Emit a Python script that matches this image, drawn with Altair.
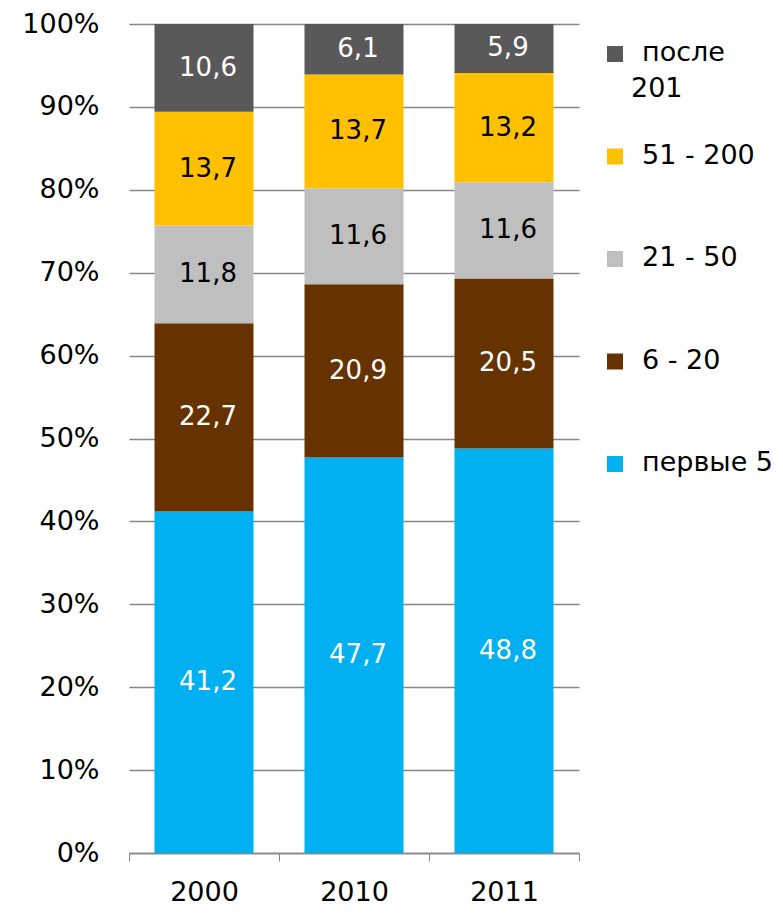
import altair as alt
import pandas as pd

years = ["2000", "2010", "2011"]
series = ["первые 5", "6 - 20", "21 - 50", "51 - 200", "после 201"]
v_first5 = [41.2, 47.7, 48.8]
v_6_20 = [22.7, 20.9, 20.5]
v_21_50 = [11.8, 11.6, 11.6]
v_51_200 = [13.7, 13.7, 13.2]
v_after201 = [10.6, 6.1, 5.9]
colors = ["#00B0F0", "#663300", "#BFBFBF", "#FFC000", "#595959"]
text_colors = ["white", "white", "black", "black", "white"]
legend_line1 = ["первые 5", "6 - 20", "21 - 50", "51 - 200", "после"]
legend_line2 = ["", "", "", "", "201"]

all_values = [v_first5, v_6_20, v_21_50, v_51_200, v_after201]
rows = []
for si, (s, vals) in enumerate(zip(series, all_values)):
    for y, v in zip(years, vals):
        rows.append({"year": y, "series": s, "value": v, "ord": si,
                     "label": f"{v:.1f}".replace(".", ","),
                     "tcolor": text_colors[si]})
df = pd.DataFrame(rows)

legend_df = pd.DataFrame({"series": series, "line1": legend_line1, "line2": legend_line2})
legend_order = list(reversed(series))

FONT = "DejaVu Sans"
color_scale = alt.Scale(domain=series, range=colors)
yscale = alt.Scale(domain=[0, 100], nice=False)

xenc = alt.X("year:N", scale=alt.Scale(paddingInner=0, paddingOuter=0),
             axis=alt.Axis(title=None, labelAngle=0, tickBand="extent", tickSize=8,
                           tickColor="#868686", domainColor="#868686", domainWidth=1.5,
                           labelFontSize=27, labelFont=FONT, labelColor="black",
                           labelPadding=18))

bars = alt.Chart(df).mark_bar(size=99).encode(
    x=xenc,
    y=alt.Y("value:Q", stack="zero", scale=yscale,
            axis=alt.Axis(title=None, values=list(range(0, 101, 10)),
                          labelExpr="datum.value + '%'", ticks=False, domain=False,
                          grid=True, gridColor="#868686", gridWidth=1.5,
                          labelFontSize=27, labelFont=FONT, labelColor="black",
                          labelPadding=30)),
    color=alt.Color("series:N", scale=color_scale, legend=None),
    order=alt.Order("ord:Q", sort="ascending"),
)

text = alt.Chart(df).transform_stack(
    stack="value", groupby=["year"], as_=["v0", "v1"],
    sort=[alt.SortField("ord", order="ascending")]
).transform_calculate(mid="(datum.v0 + datum.v1) / 2").mark_text(
    font=FONT, fontSize=26, dx=4
).encode(
    x=alt.X("year:N"),
    y=alt.Y("mid:Q", scale=yscale),
    text="label:N",
    color=alt.Color("tcolor:N", scale=None),
)

main = alt.layer(bars, text)

lg_y = alt.Y("series:N", scale=alt.Scale(type="point", domain=legend_order, range=[30, 440], padding=0), axis=None)
lg_sq = alt.Chart(legend_df).mark_square(size=256, opacity=1).encode(
    x=alt.value(486), y=lg_y,
    color=alt.Color("series:N", scale=color_scale, legend=None),
)
lg_tx1 = alt.Chart(legend_df).mark_text(
    font=FONT, fontSize=27, align="left", baseline="middle", dy=-1
).encode(
    x=alt.value(513), y=lg_y, text="line1:N", color=alt.value("black"),
)
lg_tx2 = alt.Chart(legend_df).transform_filter("datum.line2 != ''").mark_text(
    font=FONT, fontSize=27, align="left", baseline="middle", dy=35
).encode(
    x=alt.value(502), y=lg_y, text="line2:N", color=alt.value("black"),
)

chart = alt.layer(main, lg_sq, lg_tx1, lg_tx2).resolve_scale(y="independent").properties(
    width=450, height=829,
    autosize=alt.AutoSizeParams(type="none"),
    padding={"left": 121, "top": 16, "right": 196, "bottom": 55},
).configure_view(stroke=None)

chart.save("out.html", embed_options={"renderer": "svg", "actions": False})
